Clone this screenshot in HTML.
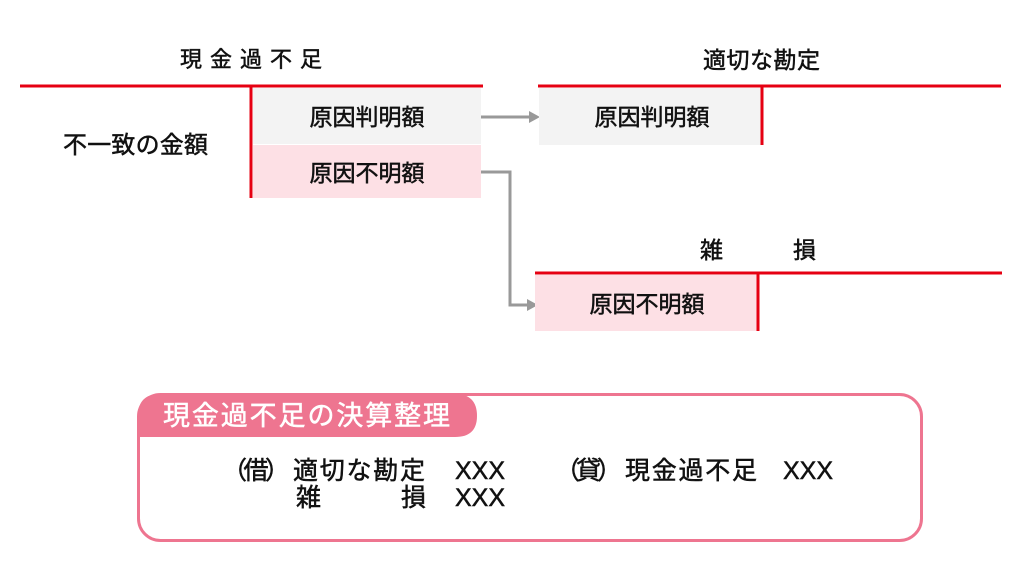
<!DOCTYPE html>
<html><head><meta charset="utf-8"><style>
html,body{margin:0;padding:0;background:#fff;}
svg text{font-family:"Liberation Sans","Noto Sans CJK JP",sans-serif;fill:#111;stroke:#111;stroke-width:0.5;}
</style></head><body>
<svg width="1024" height="576" viewBox="0 0 1024 576" xmlns="http://www.w3.org/2000/svg">
<rect x="253" y="88" width="228" height="56" fill="#f3f3f3"/>
<rect x="253" y="145" width="228" height="53" fill="#fde0e5"/>
<line x1="20" y1="86" x2="483" y2="86" stroke="#e60012" stroke-width="3"/>
<line x1="251" y1="86" x2="251" y2="198" stroke="#e60012" stroke-width="3"/>
<text x="180" y="67" font-size="22" letter-spacing="8">現金過不足</text>
<text x="63" y="153" font-size="24" textLength="145">不一致の金額</text>
<text x="367" y="125" font-size="23" text-anchor="middle">原因判明額</text>
<text x="367" y="181" font-size="23" text-anchor="middle">原因不明額</text>
<g stroke="#999" stroke-width="3" fill="none">
<line x1="481" y1="117" x2="530" y2="117"/>
<polyline points="481,172 510,172 510,305 528,305"/>
</g>
<polygon points="529,111 540,117 529,123" fill="#999"/>
<polygon points="527,299 538,305 527,311" fill="#999"/>
<rect x="539" y="88" width="222" height="57" fill="#f3f3f3"/>
<line x1="538" y1="86" x2="1001" y2="86" stroke="#e60012" stroke-width="3"/>
<line x1="762" y1="86" x2="762" y2="145" stroke="#e60012" stroke-width="3"/>
<text x="703" y="68" font-size="23" textLength="117">適切な勘定</text>
<text x="652" y="125" font-size="23" text-anchor="middle">原因判明額</text>
<rect x="535" y="275" width="222" height="56" fill="#fde0e5"/>
<line x1="535" y1="273" x2="1002" y2="273" stroke="#e60012" stroke-width="3"/>
<line x1="758" y1="273" x2="758" y2="331" stroke="#e60012" stroke-width="3"/>
<text x="700" y="258" font-size="23">雑</text>
<text x="793" y="258" font-size="23">損</text>
<text x="647" y="312" font-size="23" text-anchor="middle">原因不明額</text>
<rect x="138.5" y="394.5" width="783" height="146" rx="22" fill="#fff" stroke="#ee7590" stroke-width="3"/>
<path d="M138,437 L138,416 Q138,394 160,394 L455,394 Q477,394 477,416 Q477,437 455,437 Z" fill="#ee7590"/>
<text x="163" y="425" font-size="27" textLength="287" style="fill:#fff;stroke:#fff">現金過不足の決算整理</text>
<text x="222" y="479" font-size="25" textLength="68">（借）</text>
<text x="293" y="479" font-size="25" textLength="132">適切な勘定</text>
<text x="455" y="479" font-size="25" textLength="50">XXX</text>
<text x="296" y="506" font-size="25">雑</text>
<text x="401" y="506" font-size="25">損</text>
<text x="455" y="506" font-size="25" textLength="50">XXX</text>
<text x="555" y="479" font-size="25" textLength="67">（貸）</text>
<text x="625" y="479" font-size="25" textLength="132">現金過不足</text>
<text x="783" y="479" font-size="25" textLength="50">XXX</text>
</svg>
</body></html>
